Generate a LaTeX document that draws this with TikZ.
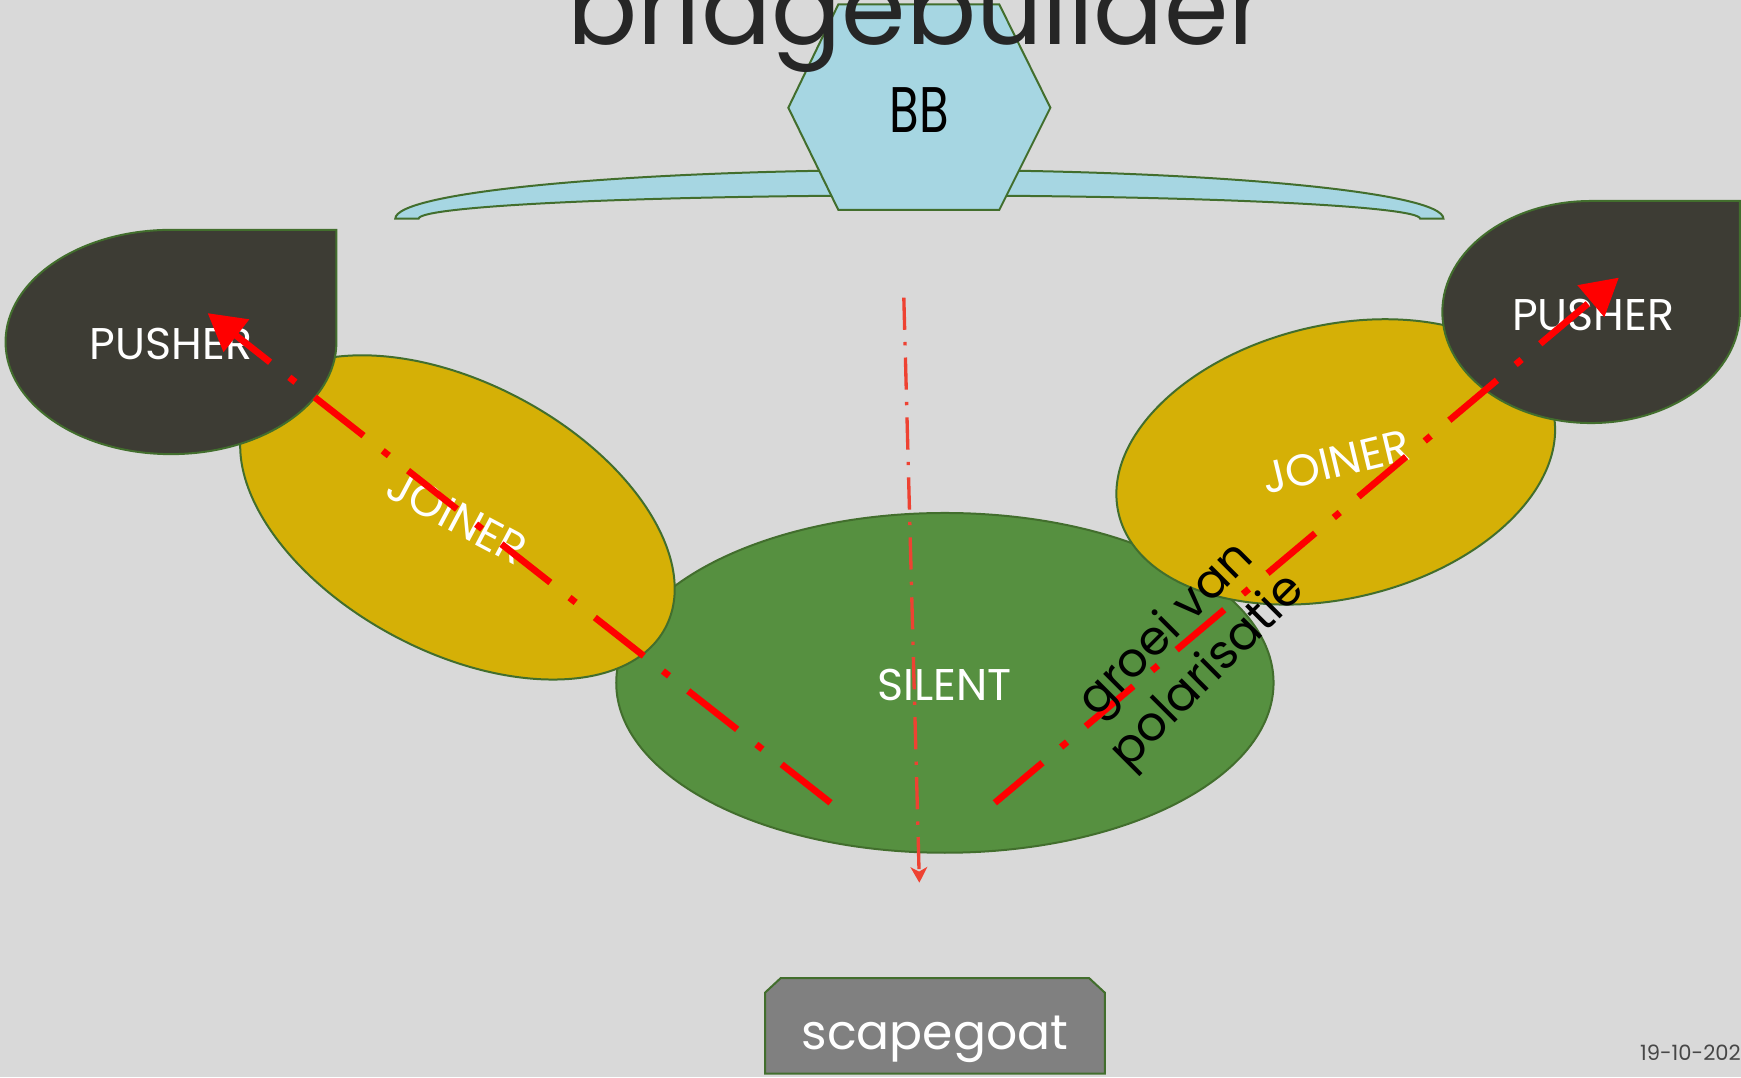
\documentclass[tikz,border=0pt]{standalone}
\usepackage{fontspec}
\setmainfont{Poppins}
\usetikzlibrary{shapes.geometric,arrows.meta}
\definecolor{slide}{RGB}{217,217,217}
\definecolor{rim}{RGB}{66,110,45}
\definecolor{sky}{RGB}{166,214,226}
\definecolor{mustard}{RGB}{213,176,6}
\definecolor{leaf}{RGB}{86,144,64}
\definecolor{coal}{RGB}{61,60,52}
\definecolor{goat}{RGB}{128,128,128}
\definecolor{thinred}{RGB}{238,66,50}
\definecolor{ink}{RGB}{38,38,38}

\begin{document}
\begin{tikzpicture}[x=1pt, y=-1pt,
   blob/.style={draw=rim, line width=1.8pt},
   lbl/.style={text=white, inner sep=0pt, font=\fontsize{40}{48}\selectfont},
   oval/.style={blob, ellipse, inner sep=0pt, fill=mustard},
   polar/.style={draw=red, line width=6pt, dash pattern=on 56pt off 22pt on 7pt off 22pt,
                 -{Triangle[length=33pt,width=36pt]}},
   axis/.style={draw=thinred, line width=3pt, dash pattern=on 29pt off 11pt on 3pt off 11pt,
                -{Stealth[length=14pt,width=15pt,inset=4pt]}}]

\useasboundingbox (0,0) rectangle (1568,970);
\clip (0,0) rectangle (1568,970);
\fill[slide] (0,0) rectangle (1568,970);

\node[blob, fill=leaf, ellipse, inner sep=0pt, minimum width=592pt, minimum height=306pt] (silent) at (851,615) {};
\node[lbl, anchor=base] at (851,631) {SILENT};

\node[oval, minimum width=424pt, minimum height=242pt, rotate=-28, lbl] (joinL) at (412,466) {JOINER};
\node[oval, minimum width=402pt, minimum height=246pt, rotate=13.5, lbl] (joinR) at (1203,416) {JOINER};

\path[blob, fill=coal] (303,308) arc[start angle=0, end angle=270, x radius=149, y radius=101]
    -- (303,207) -- cycle;
\node[lbl, anchor=base] (pushL) at (154,324) {PUSHER};
\path[blob, fill=coal] (1567,281) arc[start angle=0, end angle=270, x radius=134, y radius=100]
    -- (1567,181) -- cycle;
\node[lbl, anchor=base] (pushR) at (1435,298) {PUSHER};

\path[blob, fill=sky] (356,197) arc[start angle=180, end angle=360, x radius=472, y radius=44]
    -- (1279,197) arc[start angle=360, end angle=180, x radius=451, y radius=21] -- cycle;
\path[blob, fill=sky] (755,4) -- (900,4) -- (946,97) -- (900,189) -- (755,189) -- (710,97) -- cycle;
\node[anchor=base, inner sep=0pt, font=\fontsize{58}{60}\selectfont, xscale=0.75] (bb) at (828,119) {BB};

\node[anchor=base, inner sep=0pt, text=ink, font=\fontsize{93.5}{100}\selectfont] (title) at (826,40) {bridgebuilder};

\path[blob, fill=goat] (689,894) -- (703,881) -- (981,881) -- (995,894) -- (995,967) -- (689,967) -- cycle;
\node[lbl, anchor=base, font=\fontsize{44}{50}\selectfont] (goat) at (842,945) {scapegoat};

\coordinate (dropL) at (748,723);
\coordinate (dropR) at (896,723);
\coordinate (dropM) at (814,268);
\coordinate (tipL) at (187,282);
\coordinate (tipR) at (1458,250);
\coordinate (tipM) at (828,795);
\draw[polar] (dropL) -- (tipL);
\draw[polar] (dropR) -- (tipR);
\draw[axis] (dropM) -- (tipM);

\node[rotate=45, align=center, inner sep=0pt, font=\fontsize{43}{53}\selectfont] (growth) at (1070,587) {groei van\\polarisatie};

\node[anchor=base east, inner sep=0pt, text=ink!85, font=\fontsize{19}{22}\selectfont] (date) at (1568,955) {19-10-202};
\end{tikzpicture}
\end{document}
